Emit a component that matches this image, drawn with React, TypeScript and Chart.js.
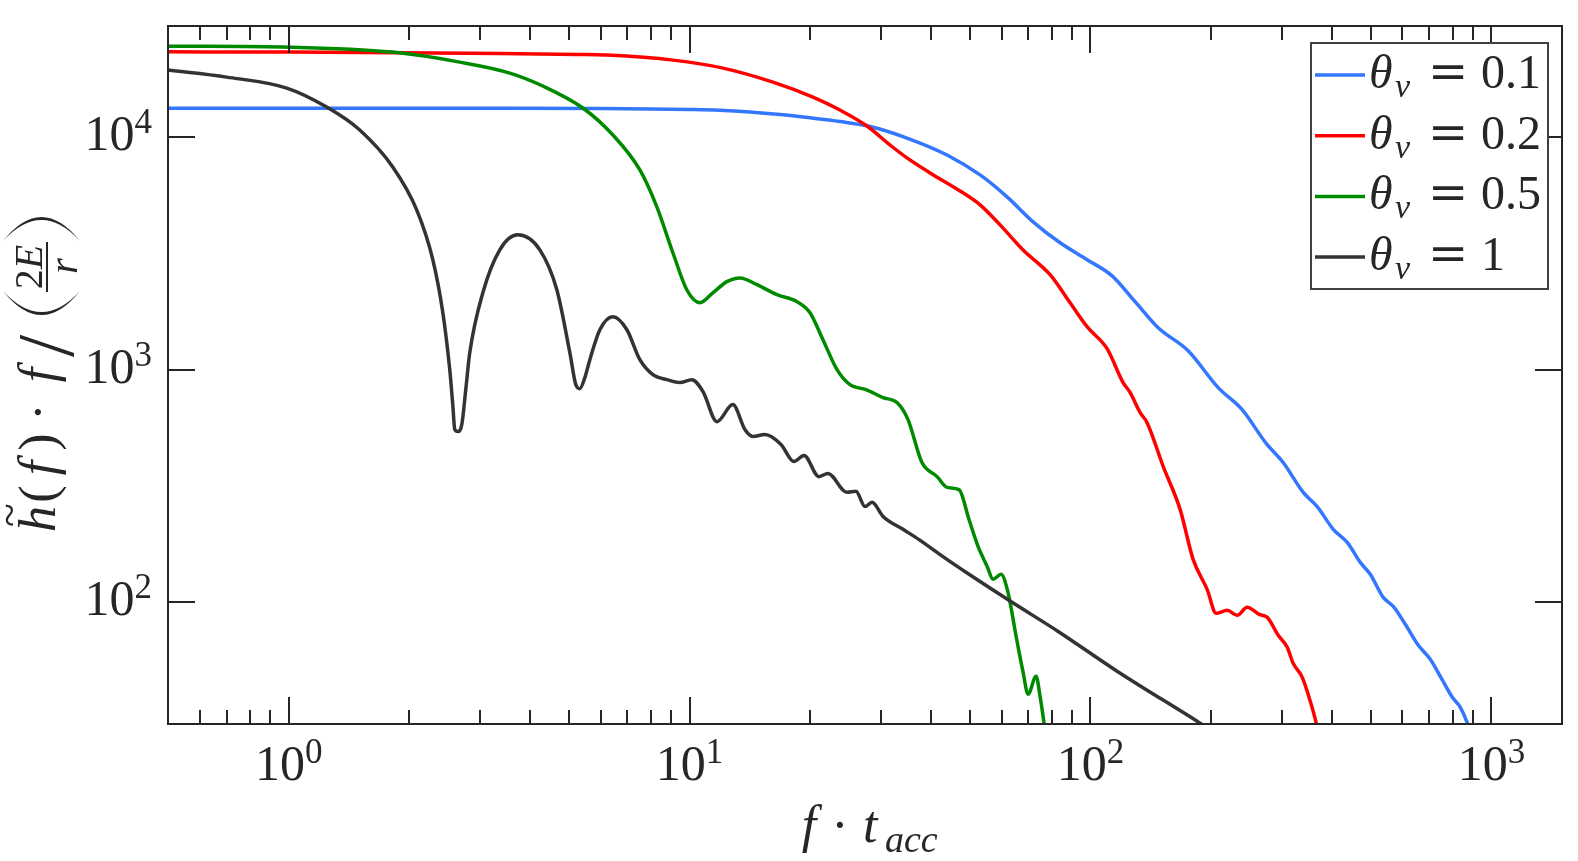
import React, { useEffect, useRef } from 'react';
import { Chart, registerables } from 'chart.js';

Chart.register(...registerables);

const SERIF = '"Liberation Serif", "DejaVu Serif", serif';
const INK = '#262626';

// [f * t_acc, h(f) * f / (2E/r)]
const theta01: [number, number][] = [
  [0.5, 13280], [1.89, 13280], [3.362, 13280], [5.973, 13245], [7.96, 13206], [10.02, 13128],
  [11.9, 13025], [14.14, 12806], [16.8, 12490], [19.97, 12090], [23.72, 11655], [27.86, 11150],
  [34.85, 9900], [43.86, 8370], [53.04, 6870], [61.93, 5530],
  [71.92, 4320], [83.99, 3510], [98.06, 2970], [113.2, 2530], [129.2, 1960], [147.5, 1515],
  [175.2, 1206], [208.2, 837], [238.9, 673], [274.3, 482], [302.4, 399], [339.3, 297],
  [367.7, 258], [403.2, 206], [436.9, 181], [470.9, 148.5], [498.7, 132], [537.3, 105],
  [569.1, 96], [609.8, 80.5], [657.2, 65.4], [703.9, 56.9], [745.6, 48.1], [798.7, 39.1],
  [836.5, 35.4], [871, 30.25], [896, 25.8],
];

const theta02: [number, number][] = [
  [0.5, 23240], [1.006, 23170], [1.89, 23010], [3.36, 22870], [5.26, 22640], [6.22, 22490],
  [9.09, 21400], [12.11, 19780], [16.14, 17220], [20.31, 14850], [23.72, 13060], [27.7, 11150],
  [31.62, 9240], [34.85, 8130], [39.79, 7010], [47.28, 5860], [53.04, 5110], [59.49, 4190],
  [67.89, 3270], [79.29, 2560], [88.94, 1940], [98.06, 1530], [110, 1231], [120.6, 880],
  [125.6, 797], [133, 654], [138.4, 592], [151.8, 384], [167.3, 251], [180.3, 153],
  [195.4, 113.7], [205.8, 89.7], [219.3, 92.4], [232.2, 88], [245.9, 95.2], [263.5, 88.8],
  [275.9, 86.2], [293.9, 72.2], [309.5, 64.1], [320.3, 54.7], [337.4, 47.6], [353.3, 37.6],
  [365.6, 30.25], [374.1, 24.6],
];

const theta05: [number, number][] = [
  [0.5, 24580], [1.006, 24340], [1.818, 23170], [2.672, 20980], [3.561, 18830], [4.305, 16560],
  [5.416, 13320], [6.437, 10200], [7.516, 7220], [8.286, 5010], [9.085, 3180], [9.847, 2200],
  [10.61, 1940], [11.43, 2140], [12.39, 2390], [13.36, 2480], [14.72, 2320], [16.52, 2100],
  [18.53, 1960], [19.97, 1756], [21.51, 1345], [23.32, 1000], [25.12, 862], [27.54, 821],
  [30.37, 758], [32.91, 722], [35.06, 610], [37.99, 399], [41.42, 347], [43.86, 312],
  [47, 305], [49.77, 227], [52.42, 174], [55.21, 143], [57.14, 125.6], [59.83, 132],
  [62.29, 110], [65.22, 71.5], [67.89, 50.1], [69.87, 40.3], [73.15, 48.1], [74.85, 39.5],
  [76.59, 30.25], [77.93, 24.6],
];

const theta1: [number, number][] = [
  [0.5, 19390], [0.7, 18090], [0.989, 16230], [1.244, 13450], [1.504, 10720], [1.818, 7430],
  [2.086, 4860], [2.288, 2970], [2.424, 1756], [2.522, 1000], [2.566, 708], [2.596, 553],
  [2.641, 542], [2.703, 581], [2.765, 821], [2.829, 1183], [3.05, 2141], [3.362, 3273],
  [3.728, 3797], [4.231, 3273], [4.665, 2204], [5.027, 1183], [5.203, 862], [5.324, 829],
  [5.479, 924], [5.639, 1104], [5.973, 1485], [6.437, 1689], [6.976, 1485], [7.516, 1104],
  [8.098, 952], [8.778, 906], [9.458, 880], [10.13, 906], [10.8, 805], [11.7, 598],
  [12.82, 708], [13.74, 553], [14.39, 516], [15.41, 526], [16.9, 477], [18.21, 403],
  [19.29, 428], [21.02, 347], [22.13, 358], [24.7, 297], [26, 300], [27.38, 258],
  [28.51, 269], [30.37, 234], [34.07, 206], [37.35, 186], [43.12, 156], [49.77, 132],
  [63.73, 100], [83.05, 75], [116.5, 50.6], [187.7, 30.25], [250, 22],
];

const seriesData = [theta01, theta02, theta05, theta1];
const seriesLabels = ['0.1', '0.2', '0.5', '1'];
const seriesColors = ['#3377ff', '#ff0000', '#008a00', '#333333'];

const xMajorTicks = [1, 10, 100, 1000];
const xTickExp = ['0', '1', '2', '3'];
const xMinorTicks = [
  0.6, 0.7, 0.8, 0.9, 2, 3, 4, 5, 6, 7, 8, 9, 20, 30, 40, 50, 60, 70, 80, 90,
  200, 300, 400, 500, 600, 700, 800, 900,
];
const yMajorTicks = [100, 1000, 10000];
const yTickExp = ['2', '3', '4'];

const matlabAxes = {
  id: 'matlabAxes',
  afterDraw(chart: any) {
    const { ctx, chartArea: a, scales } = chart;
    const xs = scales.x;
    const ys = scales.y;
    ctx.save();

    // box and inward ticks
    ctx.strokeStyle = INK;
    ctx.lineWidth = 2;
    ctx.strokeRect(a.left, a.top, a.right - a.left, a.bottom - a.top);
    ctx.beginPath();
    const xTick = (v: number, len: number) => {
      const p = Math.round(xs.getPixelForValue(v));
      ctx.moveTo(p, a.bottom);
      ctx.lineTo(p, a.bottom - len);
      ctx.moveTo(p, a.top);
      ctx.lineTo(p, a.top + len);
    };
    xMajorTicks.forEach((v) => xTick(v, 27));
    xMinorTicks.forEach((v) => xTick(v, 14));
    yMajorTicks.forEach((v) => {
      const p = Math.round(ys.getPixelForValue(v));
      ctx.moveTo(a.left, p);
      ctx.lineTo(a.left + 27, p);
      ctx.moveTo(a.right, p);
      ctx.lineTo(a.right - 27, p);
    });
    ctx.stroke();

    // tick labels 10^n
    ctx.fillStyle = INK;
    ctx.textBaseline = 'alphabetic';
    ctx.textAlign = 'left';
    const drawPow = (exp: string, x: number, y: number, align: string) => {
      ctx.font = `50px ${SERIF}`;
      const w1 = ctx.measureText('10').width;
      ctx.font = `35px ${SERIF}`;
      const w2 = ctx.measureText(exp).width;
      const left = align === 'center' ? x - (w1 + w2) / 2 : x - (w1 + w2);
      ctx.font = `50px ${SERIF}`;
      ctx.fillText('10', left, y);
      ctx.font = `35px ${SERIF}`;
      ctx.fillText(exp, left + w1, y - 17);
    };
    xMajorTicks.forEach((v, i) => drawPow(xTickExp[i], xs.getPixelForValue(v), a.bottom + 56, 'center'));
    yMajorTicks.forEach((v, i) => drawPow(yTickExp[i], a.left - 16, ys.getPixelForValue(v) + 13, 'right'));

    // x title: f · t_acc
    const cx = (a.left + a.right) / 2;
    const xb = a.bottom + 118;
    ctx.textAlign = 'center';
    ctx.font = `italic 52px ${SERIF}`;
    ctx.fillText('f', cx - 56, xb);
    ctx.font = `52px ${SERIF}`;
    ctx.fillText('·', cx - 25, xb);
    ctx.textAlign = 'left';
    ctx.font = `italic 52px ${SERIF}`;
    ctx.fillText('t', cx - 2, xb);
    ctx.font = `italic 38px ${SERIF}`;
    ctx.fillText('acc', cx + 20, xb + 10);

    // y title: h~(f) · f / (2E / r), rotated
    ctx.save();
    ctx.translate(0, (a.top + a.bottom) / 2);
    ctx.rotate(-Math.PI / 2);
    ctx.textAlign = 'center';
    const yb = 55;
    ctx.font = `italic 52px ${SERIF}`;
    ctx.fillText('h', -144, yb);
    ctx.font = `44px ${SERIF}`;
    ctx.fillText('~', -140, 24);
    ctx.font = `52px ${SERIF}`;
    ctx.fillText('(', -119, yb);
    ctx.font = `italic 52px ${SERIF}`;
    ctx.fillText('f', -93, yb);
    ctx.font = `52px ${SERIF}`;
    ctx.fillText(')', -67, yb);
    ctx.fillText('·', -37, yb);
    ctx.font = `italic 52px ${SERIF}`;
    ctx.fillText('f', 0, yb);
    ctx.font = `80px ${SERIF}`;
    ctx.fillText('/', 29, 73);
    // fraction 2E over r
    const fc = 108;
    ctx.font = `40px ${SERIF}`;
    const w2 = ctx.measureText('2').width;
    ctx.font = `italic 40px ${SERIF}`;
    const wE = ctx.measureText('E').width;
    ctx.textAlign = 'left';
    const n0 = fc - (w2 + wE) / 2;
    ctx.font = `40px ${SERIF}`;
    ctx.fillText('2', n0, 42);
    ctx.font = `italic 40px ${SERIF}`;
    ctx.fillText('E', n0 + w2, 42);
    ctx.textAlign = 'center';
    ctx.fillText('r', fc + 1, 77);
    ctx.beginPath();
    ctx.moveTo(fc - 25, 47);
    ctx.lineTo(fc + 25, 47);
    ctx.stroke();
    // tall parentheses
    ctx.beginPath();
    ctx.moveTo(84, 3);
    ctx.quadraticCurveTo(36, 41.5, 84, 80);
    ctx.quadraticCurveTo(42, 41.5, 84, 3);
    ctx.moveTo(134, 3);
    ctx.quadraticCurveTo(182, 41.5, 134, 80);
    ctx.quadraticCurveTo(176, 41.5, 134, 3);
    ctx.fill();
    ctx.restore();

    // legend
    const lx0 = a.right - 251;
    const ly0 = a.top + 17;
    ctx.fillStyle = '#ffffff';
    ctx.fillRect(lx0, ly0, 237, 246);
    ctx.strokeStyle = '#404040';
    ctx.lineWidth = 2;
    ctx.strokeRect(lx0, ly0, 237, 246);
    chart.data.datasets.forEach((ds: any, i: number) => {
      const yc = ly0 + 32 + i * 60.7;
      ctx.strokeStyle = ds.borderColor;
      ctx.lineWidth = 3.5;
      ctx.beginPath();
      ctx.moveTo(lx0 + 4, yc);
      ctx.lineTo(lx0 + 54, yc);
      ctx.stroke();
      const b = yc + 13;
      ctx.fillStyle = INK;
      ctx.textAlign = 'left';
      ctx.font = `italic 48px ${SERIF}`;
      ctx.fillText('θ', lx0 + 58, b);
      ctx.font = `italic 34px ${SERIF}`;
      ctx.fillText('v', lx0 + 84, b + 9);
      ctx.font = '48px "DejaVu Serif", serif';
      ctx.fillText('=', lx0 + 117, b);
      ctx.font = `48px ${SERIF}`;
      ctx.fillText(seriesLabels[i], lx0 + 170, b);
    });

    ctx.restore();
  },
};

const App: React.FC = () => {
  const canvasRef = useRef<HTMLCanvasElement>(null);
  const chartRef = useRef<Chart | null>(null);

  useEffect(() => {
    document.body.style.margin = '0';
    if (!canvasRef.current) return;
    if (chartRef.current) chartRef.current.destroy();

    chartRef.current = new Chart(canvasRef.current, {
      type: 'line',
      data: {
        datasets: seriesData.map((pts, i) => ({
          label: `θv = ${seriesLabels[i]}`,
          data: pts.map(([x, y]) => ({ x, y })),
          borderColor: seriesColors[i],
          backgroundColor: seriesColors[i],
          borderWidth: 3.5,
          pointRadius: 0,
          fill: false,
          cubicInterpolationMode: 'monotone' as const,
          order: seriesData.length - i,
        })),
      },
      options: {
        animation: false,
        responsive: true,
        maintainAspectRatio: false,
        layout: { padding: { left: 0, right: 16, top: 26, bottom: 0 } },
        scales: {
          x: {
            type: 'logarithmic',
            min: 0.5,
            max: 1500,
            grid: { display: false },
            border: { display: false },
            ticks: { display: false },
            afterFit: (s: any) => {
              s.height = 137;
            },
          },
          y: {
            type: 'logarithmic',
            min: 30,
            max: 30000,
            grid: { display: false },
            border: { display: false },
            ticks: { display: false },
            afterFit: (s: any) => {
              s.width = 168;
            },
          },
        },
        plugins: {
          legend: { display: false },
          tooltip: { enabled: false },
        },
      },
      plugins: [matlabAxes],
    });

    return () => {
      if (chartRef.current) {
        chartRef.current.destroy();
        chartRef.current = null;
      }
    };
  }, []);

  return (
    <div style={{ width: '1578px', height: '861px', position: 'relative', background: '#ffffff' }}>
      <canvas ref={canvasRef} />
    </div>
  );
};

export default App;
